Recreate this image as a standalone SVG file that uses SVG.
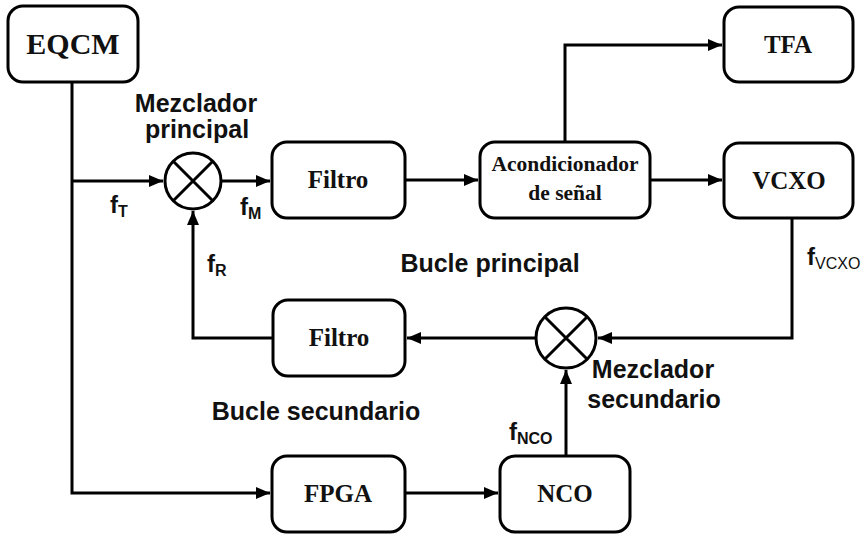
<svg xmlns="http://www.w3.org/2000/svg" width="867" height="538" viewBox="0 0 867 538">
<style>
.box{fill:#fff;stroke:#000;stroke-width:3}
.mix{fill:#fff;stroke:#000;stroke-width:3}
.wire{fill:none;stroke:#000;stroke-width:3}
.bl{font-family:"Liberation Serif","Times New Roman",serif;font-weight:bold;text-anchor:middle;fill:#111}
.sl{font-family:"Liberation Sans",Arial,sans-serif;font-weight:bold;fill:#111}
.sub{font-size:16px}
</style>
<defs>
<marker id="ah" markerUnits="userSpaceOnUse" markerWidth="16" markerHeight="14" refX="14" refY="6" orient="auto">
<path d="M0,0 L14,6 L0,12 z" fill="#000"/>
</marker>
</defs>
<g id="connectors">
<path class="wire" d="M72,82 V493 H270" marker-end="url(#ah)"/>
<path class="wire" d="M72,181 H163" marker-end="url(#ah)"/>
<path class="wire" d="M221,181 H270" marker-end="url(#ah)"/>
<path class="wire" d="M405,180 H478" marker-end="url(#ah)"/>
<path class="wire" d="M565,142 V45 H722" marker-end="url(#ah)"/>
<path class="wire" d="M650,180 H722" marker-end="url(#ah)"/>
<path class="wire" d="M792,218 V338 H598" marker-end="url(#ah)"/>
<path class="wire" d="M536,338 H407" marker-end="url(#ah)"/>
<path class="wire" d="M273,338 H193 V211" marker-end="url(#ah)"/>
<path class="wire" d="M405,493 H498" marker-end="url(#ah)"/>
<path class="wire" d="M566,455 V370" marker-end="url(#ah)"/>
</g>
<g id="eqcm"><rect class="box" x="8" y="6" width="130" height="76" rx="15"/><text class="bl" x="73" y="54" font-size="30">EQCM</text></g>
<g id="mezclador-principal"><circle class="mix" cx="193" cy="181" r="28"/><path class="wire" d="M173,161 L213,201 M213,161 L173,201"/>
<text class="sl" x="196" y="112" font-size="25" text-anchor="middle">Mezclador</text><text class="sl" x="197" y="138" font-size="25" text-anchor="middle">principal</text></g>
<g id="filtro1"><rect class="box" x="272" y="142" width="133" height="76" rx="15"/><text class="bl" x="338" y="188" font-size="25">Filtro</text></g>
<g id="acondicionador"><rect class="box" x="480" y="142" width="170" height="76" rx="15"/><text class="bl" x="565" y="171" font-size="21.5">Acondicionador</text><text class="bl" x="565" y="200" font-size="21.5">de señal</text></g>
<g id="tfa"><rect class="box" x="724" y="7" width="129" height="75" rx="15"/><text class="bl" x="788" y="53" font-size="25">TFA</text></g>
<g id="vcxo"><rect class="box" x="724" y="143" width="129" height="75" rx="15"/><text class="bl" x="789" y="189" font-size="25">VCXO</text></g>
<g id="mezclador-secundario"><circle class="mix" cx="566" cy="338" r="30"/><path class="wire" d="M545,317 L587,359 M587,317 L545,359"/>
<text class="sl" x="653" y="378" font-size="25" text-anchor="middle">Mezclador</text><text class="sl" x="654" y="408" font-size="25" text-anchor="middle">secundario</text></g>
<g id="filtro2"><rect class="box" x="273" y="300" width="132" height="76" rx="15"/><text class="bl" x="339" y="346" font-size="25">Filtro</text></g>
<g id="fpga"><rect class="box" x="272" y="456" width="133" height="76" rx="15"/><text class="bl" x="338" y="502" font-size="25">FPGA</text></g>
<g id="nco"><rect class="box" x="500" y="456" width="130" height="76" rx="15"/><text class="bl" x="565" y="502" font-size="25">NCO</text></g>
<g id="labels">
<text class="sl" x="110" y="213" font-size="24">f<tspan class="sub" dy="4">T</tspan></text>
<text class="sl" x="240" y="215" font-size="24">f<tspan class="sub" dy="4">M</tspan></text>
<text class="sl" x="207" y="272" font-size="24">f<tspan class="sub" dy="4">R</tspan></text>
<text class="sl" x="807" y="265" font-size="24">f<tspan class="sub" dy="4" font-weight="normal">VCXO</tspan></text>
<text class="sl" x="509" y="440" font-size="24">f<tspan class="sub" dy="4">NCO</tspan></text>
<text class="sl" x="490" y="272" font-size="25" text-anchor="middle">Bucle principal</text>
<text class="sl" x="316" y="420" font-size="25" text-anchor="middle">Bucle secundario</text>
</g>
</svg>
